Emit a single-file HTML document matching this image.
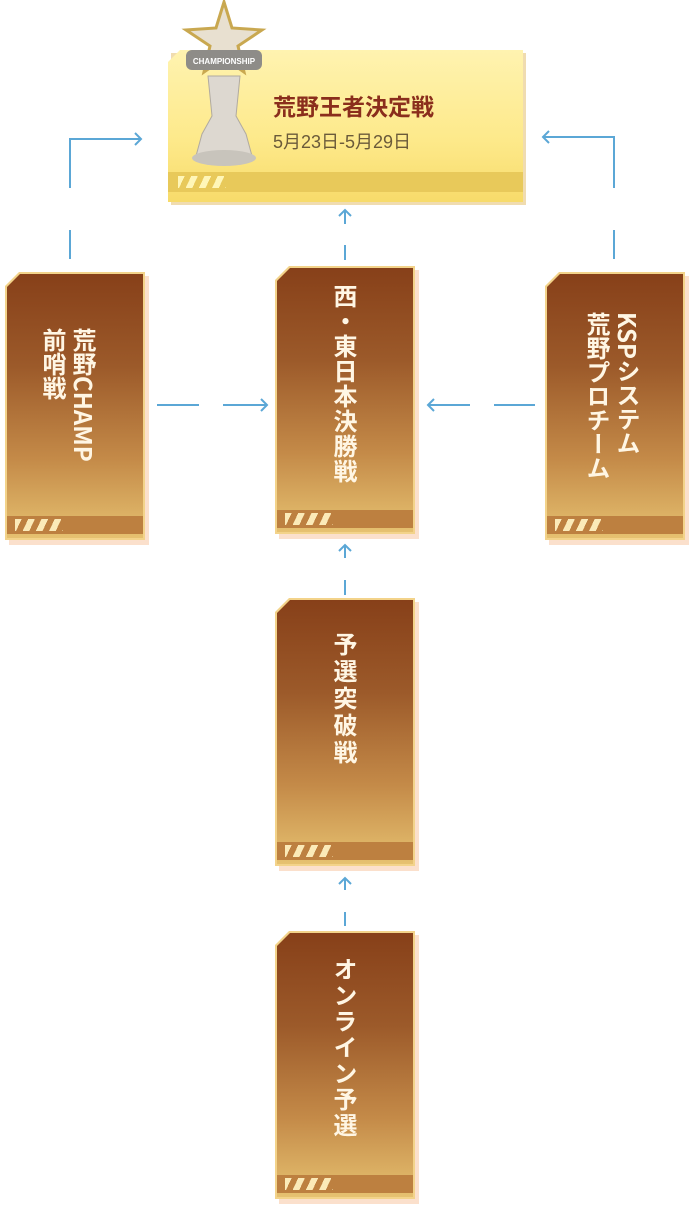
<!DOCTYPE html>
<html><head><meta charset="utf-8"><style>
body{margin:0;width:696px;height:1210px;background:#fff;position:relative;overflow:hidden;font-family:"Liberation Sans","Noto Sans CJK JP",sans-serif}
.card{position:absolute;width:140px;height:268px}
.card .sh{position:absolute;left:4px;top:4px;right:-4px;bottom:-5px;background:#fbe0cc;clip-path:polygon(14px 0,100% 0,100% 100%,0 100%,0 14px)}
.card .bd{position:absolute;inset:0;background:#f3d38a;clip-path:polygon(14px 0,100% 0,100% 100%,0 100%,0 14px)}
.card .in{position:absolute;left:2px;top:2px;right:2px;bottom:2px;background:linear-gradient(#874019 0%,#9c5a2a 35%,#c48a48 70%,#e6c170 100%);clip-path:polygon(13px 0,100% 0,100% 100%,0 100%,0 13px)}
.card .bar{position:absolute;left:2px;right:2px;bottom:6px;height:18px;background:#bd8040}
.card .st{position:absolute;left:10px;bottom:9px;width:48px;height:12px;background:repeating-linear-gradient(115deg,#fbeab8 0 6px,transparent 6px 12px)}
.card .t{position:absolute;top:22px;writing-mode:vertical-rl;color:#fff6e4;font-weight:bold;font-size:24px;letter-spacing:2px;line-height:30px;font-family:"Noto Sans CJK JP","Liberation Sans",sans-serif}
.fin{position:absolute;left:168px;top:50px;width:355px;height:152px}
</style></head><body>
<svg width="696" height="1210" style="position:absolute;left:0;top:0" fill="none" stroke="#5ba7d6" stroke-width="2">
<path d="M70 259V230M70 188V139H141M135 133l6 6-6 6"/>
<path d="M614 259V230M614 188V137H543M549 131l-6 6 6 6"/>
<path d="M157 405H199M223 405H267M261 399l6 6-6 6"/>
<path d="M535 405H494M470 405H428M434 399l-6 6 6 6"/>
<path d="M345 260V245M339 216l6-6 6 6M345 210V224"/>
<path d="M345 595V580M339 551l6-6 6 6M345 545V558"/>
<path d="M345 926V912M339 884l6-6 6 6M345 878V890"/>
</svg>

<div class="fin">
 <div style="position:absolute;left:3px;top:3px;right:-3px;bottom:-3px;background:#f0dcb0"></div>
 <div style="position:absolute;inset:0;background:linear-gradient(#fff3b0,#fde98a 60%,#f7db6a);clip-path:polygon(12px 0,100% 0,100% 100%,0 100%,0 12px)"></div>
 <div style="position:absolute;left:0;right:0;bottom:10px;height:20px;background:#e8c95a"></div>
 <div style="position:absolute;left:10px;bottom:14px;width:48px;height:12px;background:repeating-linear-gradient(115deg,#fff6b8 0 6px,transparent 6px 12px)"></div>
 <div style="position:absolute;left:105px;top:38px;font-size:23px;font-weight:bold;color:#8a2e1c;font-family:'Noto Sans CJK JP',sans-serif">荒野王者決定戦</div>
 <div style="position:absolute;left:105px;top:78px;font-size:18px;color:#6a5a3a">5月23日-5月29日</div>
</div>
<svg width="100" height="175" style="position:absolute;left:178px;top:0">
 <polygon points="46,2 54,28 84,30 60,46 66,72 46,58 26,72 32,46 8,30 38,28" fill="#e8e0d0" stroke="#c9a850" stroke-width="3"/>
 <rect x="8" y="50" width="76" height="20" rx="6" fill="#8e8c88"/>
 <text x="46" y="64" font-size="8" font-weight="bold" fill="#fff" text-anchor="middle" font-family="Liberation Sans">CHAMPIONSHIP</text>
 <path d="M30 76h32l-4 40 10 18 6 22H18l6-22 10-18z" fill="#ddd8d0" stroke="#b0aaa0"/>
 <ellipse cx="46" cy="158" rx="32" ry="8" fill="#c8c4bc"/>
</svg>

<div class="card" style="left:5px;top:272px"><div class="sh"></div><div class="bd"></div><div class="in"></div><div class="bar"></div><div class="st"></div><div class="t" style="left:34px;top:56px;letter-spacing:0">荒野CHAMP<br>前哨戦</div></div>
<div class="card" style="left:275px;top:266px"><div class="sh"></div><div class="bd"></div><div class="in"></div><div class="bar"></div><div class="st"></div><div class="t" style="left:55px;top:18px;letter-spacing:1px">西・東日本決勝戦</div></div>
<div class="card" style="left:545px;top:272px"><div class="sh"></div><div class="bd"></div><div class="in"></div><div class="bar"></div><div class="st"></div><div class="t" style="left:38px;top:40px;letter-spacing:0">KSPシステム<br>荒野プロチーム</div></div>
<div class="card" style="left:275px;top:598px"><div class="sh"></div><div class="bd"></div><div class="in"></div><div class="bar"></div><div class="st"></div><div class="t" style="left:55px;top:34px;letter-spacing:3px">予選突破戦</div></div>
<div class="card" style="left:275px;top:931px"><div class="sh"></div><div class="bd"></div><div class="in"></div><div class="bar"></div><div class="st"></div><div class="t" style="left:55px;top:26px;letter-spacing:2px">オンライン予選</div></div>
</body></html>
